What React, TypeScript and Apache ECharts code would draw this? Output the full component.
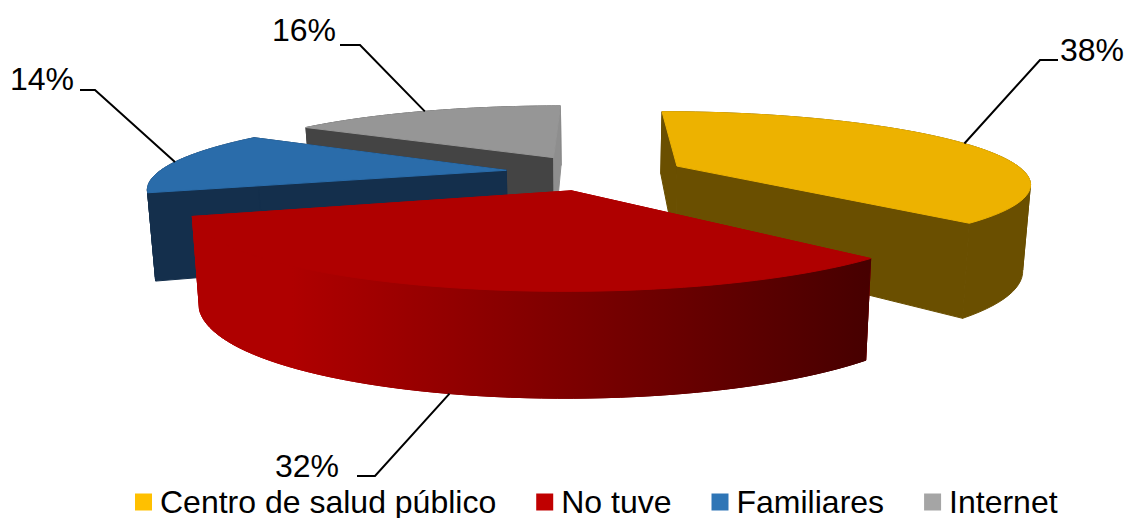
import React, { useEffect, useRef } from "react";
import * as echarts from "echarts";

const categories = ["Centro de salud público", "No tuve", "Familiares", "Internet"];
const shares = [38, 32, 14, 16];
const legendColors = ["#FFC000", "#C00000", "#2E75B6", "#A5A5A5"];
const topColors = ["#EDB200", "#AF0000", "#2A6CAA", "#969696"];
const wallColors = ["#6A4F00", "#AF0000", "#142F4C", "#444444"];
const endWallColors = ["#6A4F00", "#AF0000", "#142F4C", "#8E8E8E"];
const drawOrder = [3, 2, 0, 1];

// Perspective model of the exploded pie
const START_DEG = 0;
const CX = 595, CY = 172.5, R = 348, EXPLODE = 90;
const VX = 593, K = 0.22, B = 0.198, H = 83;

const project = (X: number, Y: number, z: number): number[] => {
  const g = 1 / (1 - (K * Y) / R);
  let x = VX + (CX + X - VX) * g;
  let y = CY + B * Y * g;
  if (z > 0) {
    x = VX + (x - VX) * (1 - 0.018 * z);
    y += H * z * (1 + (0.23 * Y) / R);
  }
  return [x, y];
};

const total = shares.reduce((a, b) => a + b, 0);
const spans = shares.map((v) => (v / total) * 360);
const starts = spans.map((_, i) => START_DEG + spans.slice(0, i).reduce((a, b) => a + b, 0));

const rad = (d: number) => (d * Math.PI) / 180;

const sliceGeom = (i: number) => {
  const a0 = starts[i];
  const a1 = a0 + spans[i];
  const mid = rad((a0 + a1) / 2);
  const ox = EXPLODE * Math.sin(mid);
  const oy = -EXPLODE * Math.cos(mid);
  const arc = (z: number) => {
    const pts: number[][] = [];
    const n = 60;
    for (let s = 0; s <= n; s++) {
      const t = rad(a0 + ((a1 - a0) * s) / n);
      pts.push(project(ox + R * Math.sin(t), oy - R * Math.cos(t), z));
    }
    return pts;
  };
  const at = (frac: number, z: number) => {
    const t = rad(a0 + (a1 - a0) * frac);
    return project(ox + R * Math.sin(t), oy - R * Math.cos(t), z);
  };
  return { apexTop: project(ox, oy, 0), apexBottom: project(ox, oy, 1), arc, at };
};

// Leader layout: starts at the slice's bisector, then elbow, tail, label centre
const leaderDepth = [0, 1, 0, 0];
const leaderElbow = [[1040, 60], [375, 476], [95, 90], [360, 45]];
const leaderTail = [[1058, 60], [357, 476], [80, 90], [340, 45]];
const labelPos = [[1092, 50], [307, 466], [42, 79], [304, 30]];

const renderSlice = (i: number) => () => {
  const g = sliceGeom(i);
  const topArc = g.arc(0);
  const bottomArc = g.arc(1);
  const wallFill =
    i === 1
      ? new echarts.graphic.LinearGradient(
          198, 0, 867, 0,
          [
            { offset: 0, color: "#AF0000" },
            { offset: 0.14, color: "#AF0000" },
            { offset: 1, color: "#470000" },
          ],
          true
        )
      : wallColors[i];
  const poly = (points: number[][], fill: any) => ({
    type: "polygon",
    shape: { points },
    style: { fill, stroke: fill, lineWidth: 1 },
    silent: true,
  });
  const first = topArc[0];
  const last = topArc[topArc.length - 1];
  const firstB = bottomArc[0];
  const lastB = bottomArc[bottomArc.length - 1];
  const anchor = g.at(0.5, leaderDepth[i]);

  // the outer wall folds at the arc's horizontal extremes: split it there
  const xs = topArc.map((p) => p[0]);
  const cuts = [0, xs.indexOf(Math.max(...xs)), xs.indexOf(Math.min(...xs)), topArc.length - 1]
    .sort((a, b) => a - b)
    .filter((v, n, arr) => n === 0 || v !== arr[n - 1]);
  const wallParts: any[] = [];
  for (let c = 0; c + 1 < cuts.length; c++) {
    const t = topArc.slice(cuts[c], cuts[c + 1] + 1);
    const b = bottomArc.slice(cuts[c], cuts[c + 1] + 1).reverse();
    wallParts.push(poly([...t, ...b], wallFill));
  }

  return {
    type: "group",
    children: [
      ...wallParts,
      poly([first, g.apexTop, g.apexBottom, firstB], wallColors[i]),
      poly([last, g.apexTop, g.apexBottom, lastB], endWallColors[i]),
      ...(i === 1 ? wallParts : []),
      poly([g.apexTop, ...topArc], topColors[i]),
      {
        type: "polyline",
        shape: { points: [anchor, leaderElbow[i], leaderTail[i]] },
        style: { stroke: "#000000", lineWidth: 2, fill: null },
        silent: true,
      },
      {
        type: "text",
        x: labelPos[i][0],
        y: labelPos[i][1],
        style: {
          text: shares[i] + "%",
          font: '32px "Liberation Sans", Arial, sans-serif',
          fill: "#000000",
          align: "center",
          verticalAlign: "middle",
        },
        silent: true,
      },
    ],
  };
};

export default function App() {
  const ref = useRef<HTMLDivElement>(null);
  useEffect(() => {
    document.body.style.margin = "0";
    const chart = echarts.init(ref.current!, undefined, { renderer: "svg" });
    chart.setOption({
      animation: false,
      backgroundColor: "#ffffff",
      legend: {
        left: 135,
        top: 486,
        icon: "rect",
        itemWidth: 17,
        itemHeight: 17,
        itemGap: 40,
        selectedMode: false,
        padding: 0,
        textStyle: {
          fontFamily: '"Liberation Sans", Arial, sans-serif',
          fontSize: 32,
          color: "#000000",
          padding: [0, 0, 0, 3],
        },
        data: categories.map((name, i) => ({ name, itemStyle: { color: legendColors[i] } })),
      },
      series: drawOrder.map((i) => ({
        type: "custom",
        name: categories[i],
        coordinateSystem: "none",
        renderItem: renderSlice(i),
        itemStyle: { color: legendColors[i] },
        data: [shares[i]],
        silent: true,
      })),
    });
    return () => chart.dispose();
  }, []);
  return <div ref={ref} style={{ position: "absolute", left: 0, top: 0, width: 1126, height: 518 }} />;
}
